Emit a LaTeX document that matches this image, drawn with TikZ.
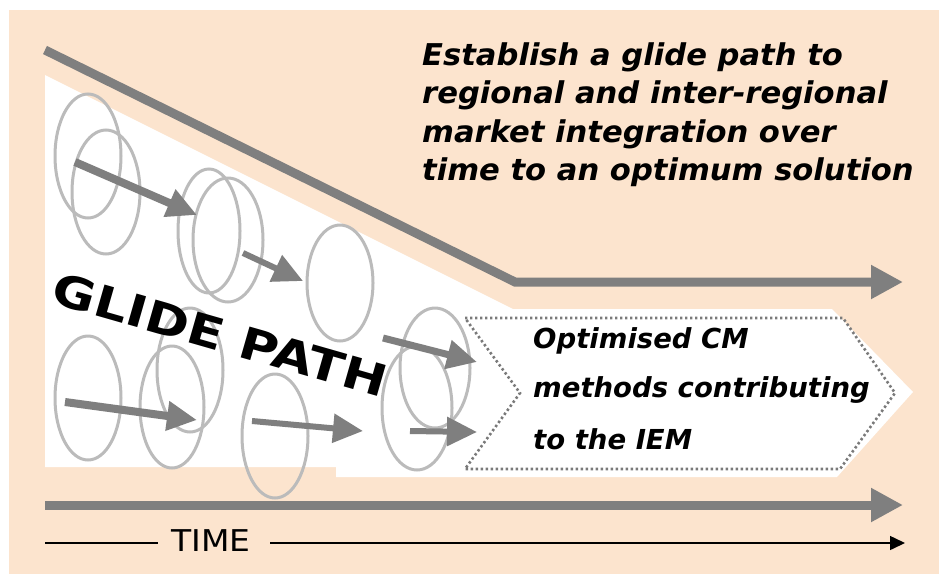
\documentclass[tikz,border=0pt]{standalone}
\usepackage{fontspec}
\setmainfont{DejaVu Sans}
\newfontfamily\widefont[FakeStretch=1.02]{DejaVu Sans}
\newfontfamily\glidefont[FakeStretch=1.2]{DejaVu Sans}
\newfontfamily\timefont[FakeStretch=1.1]{DejaVu Sans}
\usetikzlibrary{arrows.meta}
\definecolor{peach}{HTML}{FCE4CE}
\definecolor{arrgray}{HTML}{7F7F7F}
\definecolor{ringgray}{HTML}{BBBBBB}
\definecolor{dotgray}{HTML}{7A7A7A}
\tikzset{
  ring/.style={draw=ringgray, line width=3pt},
  bigarrow/.style={draw=arrgray, line width=9pt, -{Triangle[length=32pt,width=32pt]}},
  smallarrow/.style={draw=arrgray, line width=#1, -{Triangle[length=30pt,width=28pt]}},
  toptext/.style={anchor=base west, inner sep=0pt, font=\widefont\bfseries\itshape\fontsize{30}{36}\selectfont},
  boxtext/.style={anchor=base west, inner sep=0pt, font=\bfseries\itshape\fontsize{27.5}{33}\selectfont},
}
\begin{document}
\begin{tikzpicture}[x=1pt,y=-1pt]
\useasboundingbox (0,0) rectangle (939,574);
\fill[white] (0,0) rectangle (939,574);
\fill[peach] (9,10) rectangle (939,574);
% white funnel
\fill[white] (45,75) -- (513,309) -- (832,309) -- (913,392) -- (837,477)
  -- (336,477) -- (336,467) -- (45,467) -- cycle;
% rings
\draw[ring] (88,156) ellipse [x radius=33pt, y radius=62pt];
\draw[ring] (106,192) ellipse [x radius=34pt, y radius=62pt];
\draw[ring] (209,231) ellipse [x radius=31pt, y radius=62pt];
\draw[ring] (228,240) ellipse [x radius=35pt, y radius=62pt];
\draw[ring] (340,283) ellipse [x radius=33pt, y radius=58pt];
\draw[ring] (88,398) ellipse [x radius=33pt, y radius=62pt];
\draw[ring] (190,370) ellipse [x radius=33pt, y radius=62pt];
\draw[ring] (172,407) ellipse [x radius=32pt, y radius=61pt];
\draw[ring] (275,436) ellipse [x radius=33pt, y radius=62pt];
\draw[ring] (435,368) ellipse [x radius=35pt, y radius=60pt];
\draw[ring] (417,408) ellipse [x radius=35pt, y radius=62pt];
% small arrows
\coordinate (a1) at (75,162);  \coordinate (a2) at (197,215);
\coordinate (b1) at (243,253); \coordinate (b2) at (303,281);
\coordinate (c1) at (65,402);  \coordinate (c2) at (197,420);
\coordinate (d1) at (252,421); \coordinate (d2) at (363,431);
\coordinate (e1) at (383,338); \coordinate (e2) at (477,362);
\coordinate (f1) at (410,431); \coordinate (f2) at (477,432);
\draw[smallarrow=8pt] (a1) -- (a2);
\draw[smallarrow=6pt] (b1) -- (b2);
\draw[smallarrow=8pt] (c1) -- (c2);
\draw[smallarrow=6pt] (d1) -- (d2);
\draw[smallarrow=7pt] (e1) -- (e2);
\draw[smallarrow=6pt] (f1) -- (f2);
% dotted chevron
\draw[dotgray, line width=2.6pt, dash pattern=on 2.4pt off 2.6pt]
  (465,318) -- (843,318) -- (895,393) -- (840,469) -- (465,469) -- (520,393) -- cycle;
% big arrows
\coordinate (g0) at (45,50); \coordinate (g1) at (515,282); \coordinate (g2) at (903,282);
\draw[bigarrow] (g0) -- (g1) -- (g2);
\coordinate (h0) at (45,505); \coordinate (h1) at (903,505);
\draw[bigarrow] (h0) -- (h1);
% time axis
\node[anchor=base, inner sep=0pt, font=\timefont\fontsize{30}{36}\selectfont] (time) at (211,551) {TIME};
\coordinate (t0) at (45,543); \coordinate (t1) at (158,543);
\coordinate (t2) at (270,543); \coordinate (t3) at (905,543);
\draw[black, line width=1.5pt] (t0) -- (t1);
\draw[black, line width=1.5pt, -{Triangle[length=15pt,width=14pt]}] (t2) -- (t3);
% glide path
\node[rotate=-16, inner sep=0pt, font=\glidefont\bfseries\fontsize{44}{50}\selectfont] (glide) at (220,335) {GLIDE PATH};
% texts
\node[toptext] (l1) at (422,65) {Establish a glide path to};
\node[toptext] (l2) at (422,103.5) {regional and inter-regional};
\node[toptext] (l3) at (422,142) {market integration over};
\node[toptext] (l4) at (422,180) {time to an optimum solution};
\node[boxtext] (m1) at (533,348) {Optimised CM};
\node[boxtext] (m2) at (533,397) {methods contributing};
\node[boxtext] (m3) at (533,449) {to the IEM};
\end{tikzpicture}
\end{document}
